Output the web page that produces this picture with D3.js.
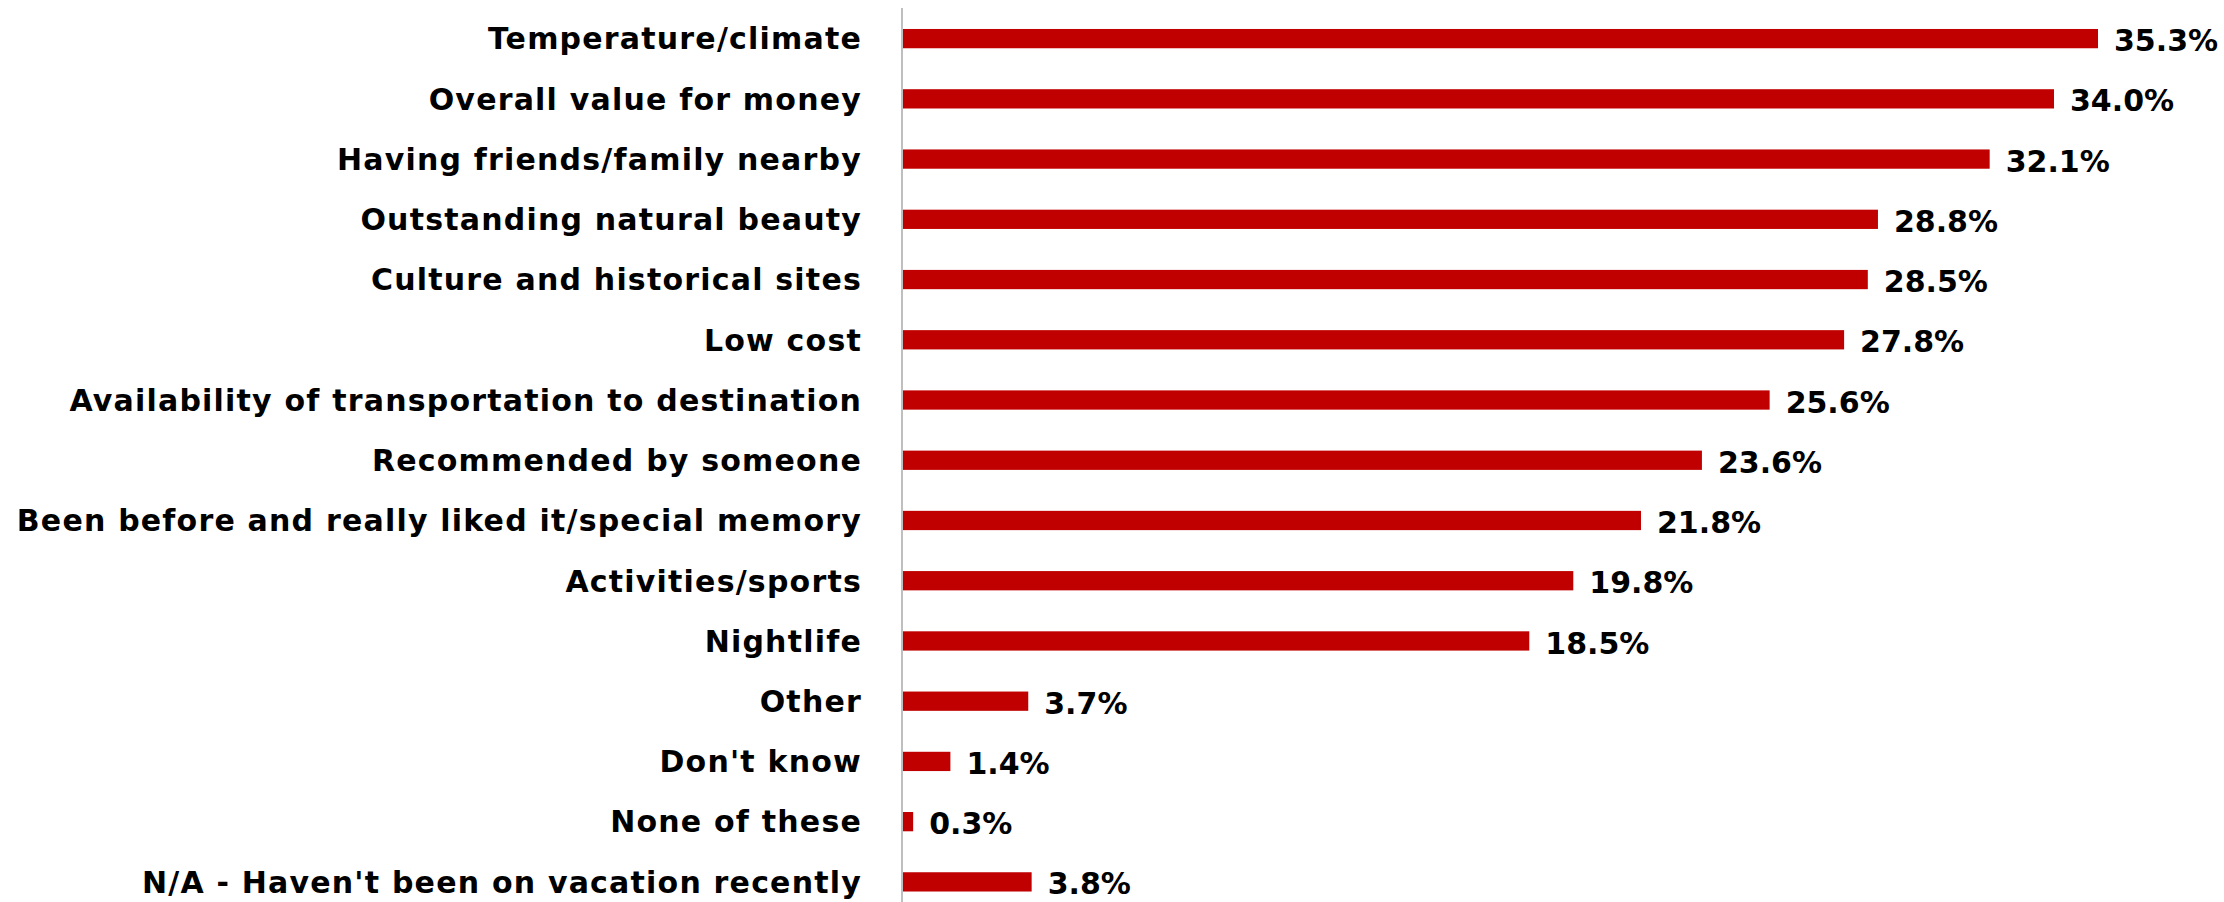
<!DOCTYPE html>
<html>
<head>
<meta charset="utf-8">
<script src="https://cdn.jsdelivr.net/npm/d3@7"></script>
<style>
  body { margin: 0; background: #fff; }
  text { font-family: "DejaVu Sans", sans-serif; font-weight: bold; fill: #000; }
</style>
</head>
<body>
<svg id="chart" width="2224" height="902"></svg>
<script>
// reasons, top to bottom
const categories = [
  "Temperature/climate",
  "Overall value for money",
  "Having friends/family nearby",
  "Outstanding natural beauty",
  "Culture and historical sites",
  "Low cost ",
  "Availability of transportation to destination",
  "Recommended by someone",
  "Been before and really liked it/special memory",
  "Activities/sports",
  "Nightlife",
  "Other",
  "Don't know",
  "None of these ",
  "N/A - Haven't been on vacation recently"
];
const values = [35.3, 34.0, 32.1, 28.8, 28.5, 27.8, 25.6, 23.6, 21.8, 19.8, 18.5, 3.7, 1.4, 0.3, 3.8];

const width = 2224, height = 902;
const axisX = 902;

const svg = d3.select("#chart");

const x = d3.scaleLinear()
  .domain([0, 35.3])
  .range([axisX + 1, 2098]);

const y = d3.scaleBand()
  .domain(categories)
  .range([8.5, 912])
  .paddingInner(0.68)
  .paddingOuter(0.34);

const rows = categories.map((c, i) => ({ cat: c, val: values[i] }));

// bars
svg.append("g")
  .selectAll("rect")
  .data(rows)
  .join("rect")
  .attr("x", x(0))
  .attr("y", d => y(d.cat))
  .attr("width", d => x(d.val) - x(0))
  .attr("height", y.bandwidth())
  .attr("fill", "#C00000");

// category labels
svg.append("g")
  .selectAll("text")
  .data(rows)
  .join("text")
  .attr("x", 862)
  .attr("y", d => y(d.cat) + y.bandwidth() / 2)
  .attr("dy", "0.36em")
  .attr("text-anchor", "end")
  .style("font-size", "30px")
  .style("letter-spacing", "1.2px")
  .text(d => d.cat);

// value labels
svg.append("g")
  .selectAll("text")
  .data(rows)
  .join("text")
  .attr("x", d => x(d.val) + 16)
  .attr("y", d => y(d.cat) + y.bandwidth() / 2)
  .attr("dy", "0.42em")
  .style("font-size", "30px")
  .text(d => d.val.toFixed(1) + "%");

// vertical axis line
svg.append("line")
  .attr("x1", axisX).attr("x2", axisX)
  .attr("y1", 8).attr("y2", height)
  .attr("stroke", "#bfbfbf")
  .attr("stroke-width", 2);
</script>
</body>
</html>
